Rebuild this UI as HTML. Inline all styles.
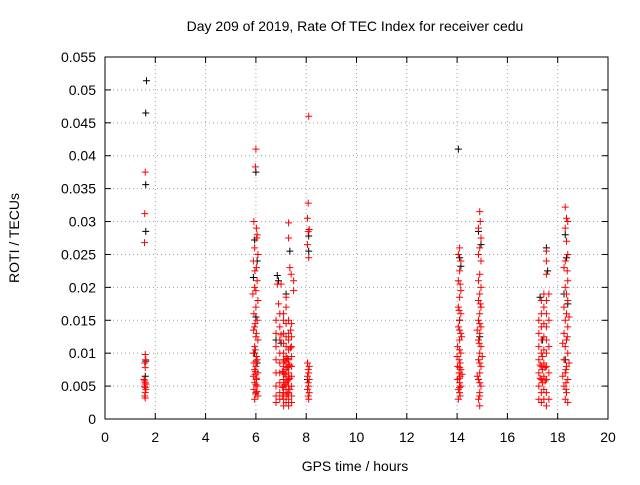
<!DOCTYPE html>
<html><head><meta charset="utf-8"><style>
body{margin:0;background:#fff;}
svg text{font-family:"Liberation Sans",sans-serif;font-size:14px;fill:#000;}
</style></head><body>
<svg id="chart" width="640" height="480" xmlns="http://www.w3.org/2000/svg">
<rect width="640" height="480" fill="#fff"/>
<text x="355" y="31" text-anchor="middle">Day 209 of 2019, Rate Of TEC Index for receiver cedu</text>
<text transform="translate(19,238) rotate(-90)" text-anchor="middle">ROTI / TECUs</text>
<text x="355" y="471" text-anchor="middle">GPS time / hours</text>
<g id="grid"></g>
<g id="ticks"></g>
<g id="marks"></g>
<rect x="105" y="57" width="503" height="362" fill="none" stroke="#000" stroke-width="1"/>
</svg>
<script>
const xTicks=[0,2,4,6,8,10,12,14,16,18,20];
const yTicks=[0,0.005,0.01,0.015,0.02,0.025,0.03,0.035,0.04,0.045,0.05,0.055];
const yTickLabels=["0","0.005","0.01","0.015","0.02","0.025","0.03","0.035","0.04","0.045","0.05","0.055"];
const blackPoints=[[1.65,.0514],[1.62,.0465],[1.62,.0356],[1.62,.0285],[1.62,.0088],[1.6,.0065],
[6.0,.0375],[5.95,.0272],[6.05,.024],[5.9,.0215],[6.0,.0155],[5.95,.010],[6.05,.0085],
[6.85,.0218],[6.9,.021],[7.35,.0255],[7.2,.019],[6.8,.012],[7.0,.0115],
[8.1,.0278],[8.1,.0255],[8.05,.006],
[14.05,.041],[14.1,.0245],[14.15,.0232],[14.1,.015],
[14.85,.0285],[14.95,.0265],[14.9,.0125],
[17.55,.026],[17.6,.0225],[17.3,.0185],[17.4,.012],
[18.3,.028],[18.35,.0245],[18.25,.019],[18.4,.0175],[18.3,.009]];
const redPoints=[[1.6,.0375],[1.58,.0312],[1.57,.0268],[1.6,.0098],[1.62,.009],[1.58,.0085],[1.6,.0078],[1.55,.006],[1.58,.0058],[1.6,.0055],[1.62,.0053],[1.57,.005],[1.6,.0048],[1.63,.0045],[1.6,.004],[1.58,.0035],[1.6,.0032],
[6.0,.041],[5.98,.0383],[5.92,.030],[6.02,.029],[6.05,.028],[5.95,.026],[6.08,.025],[5.9,.024],[6.02,.023],[6.05,.021],[5.95,.020],[5.88,.019],[6.08,.018],[6.0,.017],[5.92,.016],[6.05,.015],[5.95,.014],[5.9,.0135],[6.02,.013],[6.08,.012],[5.95,.011],[5.9,.010],[6.02,.0095],[6.05,.009],[5.92,.0085],[6.0,.008],[5.95,.0075],[6.08,.007],[5.9,.0065],[6.02,.006],[5.95,.0055],[6.05,.005],[5.92,.0045],[6.0,.004],[6.08,.0035],[5.95,.003],[6.02,.0062],[5.98,.0072],[6.04,.0042],
[5.96,.0225],[6.0,.0195],[5.97,.0145],[6.0,.0125],[5.98,.0105],[6.0,.0088],[5.97,.0068],[6.0,.0052],[5.99,.0038],[6.03,.0275],
[7.3,.0298],[7.3,.0275],[7.35,.023],[7.4,.022],[7.5,.021],[7.5,.0195],[7.2,.017],[7.1,.016],[6.85,.0205],[7.0,.0205],[6.9,.0175],[7.2,.0185],
[6.8,.015],[6.8,.013],[6.8,.011],[6.8,.009],[6.8,.007],[6.8,.005],[6.8,.0035],[6.8,.0025],
[6.95,.016],[6.95,.014],[6.95,.012],[6.95,.010],[6.95,.0085],[6.95,.007],[6.95,.0055],[6.95,.004],[6.95,.003],
[7.1,.015],[7.1,.013],[7.1,.0115],[7.1,.010],[7.1,.009],[7.1,.008],[7.1,.007],[7.1,.006],[7.1,.005],[7.1,.004],[7.1,.003],[7.1,.002],
[7.2,.0145],[7.2,.0125],[7.2,.011],[7.2,.0095],[7.2,.0085],[7.2,.0075],[7.2,.0065],[7.2,.0055],[7.2,.0045],[7.2,.0035],[7.2,.0025],
[7.3,.015],[7.3,.013],[7.3,.012],[7.3,.0105],[7.3,.009],[7.3,.008],[7.3,.007],[7.3,.006],[7.3,.005],[7.3,.004],[7.3,.003],[7.3,.002],
[7.42,.0145],[7.42,.0125],[7.42,.011],[7.42,.0095],[7.42,.008],[7.42,.0065],[7.42,.005],[7.42,.0035],[7.42,.0025],
[7.0,.0128],[7.15,.0068],[7.25,.0078],[7.35,.0062],[7.05,.0048],[7.38,.0108],
[7.25,.0092],[7.25,.0058],[7.25,.0038],[7.35,.0082],[7.35,.0045],[7.15,.0088],[7.15,.0052],[7.05,.0072],[7.05,.0035],[7.38,.0135],
[8.1,.046],[8.08,.0328],[8.05,.0305],[8.12,.0288],[8.08,.0285],[8.05,.0265],[8.1,.0245],[8.05,.0085],[8.12,.008],[8.08,.0075],[8.1,.007],[8.05,.0065],[8.12,.006],[8.08,.0055],[8.1,.005],[8.05,.0045],[8.12,.004],[8.08,.0035],[8.1,.003],
[14.1,.026],[14.05,.025],[14.15,.024],[14.1,.0225],[14.05,.021],[14.15,.0195],[14.1,.0185],[14.05,.017],[14.15,.016],[14.1,.015],[14.05,.014],[14.15,.013],[14.1,.012],[14.02,.011],[14.15,.010],[14.08,.009],[14.12,.0085],[14.02,.008],[14.15,.0075],[14.08,.007],[14.12,.0065],[14.02,.006],[14.1,.0055],[14.15,.005],[14.05,.0045],[14.1,.004],[14.12,.0035],[14.05,.003],[14.18,.0125],[14.0,.0095],[14.2,.0068],
[14.1,.0135],[14.1,.0105],[14.1,.0078],[14.1,.0062],[14.1,.0048],[14.08,.0165],[14.12,.0205],
[14.9,.0315],[14.92,.030],[14.85,.029],[14.95,.0275],[14.9,.026],[14.85,.025],[14.95,.024],[14.9,.022],[14.85,.021],[14.95,.020],[14.9,.019],[14.85,.018],[14.95,.017],[14.9,.016],[14.85,.015],[14.95,.014],[14.9,.013],[14.85,.012],[14.95,.011],[14.9,.010],[14.85,.009],[14.95,.008],[14.9,.007],[14.85,.006],[14.95,.005],[14.9,.004],[14.85,.003],[14.9,.002],[14.8,.0135],[15.0,.0095],[14.8,.0065],
[14.9,.0145],[14.9,.0085],[14.9,.0055],[14.9,.0035],[14.88,.0115],[14.92,.0175],
[17.25,.015],[17.25,.013],[17.25,.011],[17.25,.009],[17.25,.007],[17.25,.005],[17.25,.003],
[17.35,.018],[17.35,.016],[17.35,.014],[17.35,.012],[17.35,.010],[17.35,.008],[17.35,.006],[17.35,.004],[17.35,.0025],
[17.45,.019],[17.45,.017],[17.45,.0145],[17.45,.0125],[17.45,.0105],[17.45,.0085],[17.45,.0065],[17.45,.0045],[17.45,.003],
[17.55,.0255],[17.55,.024],[17.55,.022],[17.55,.018],[17.55,.016],[17.55,.014],[17.55,.012],[17.55,.010],[17.55,.008],[17.55,.006],[17.55,.004],[17.55,.002],
[17.65,.019],[17.65,.015],[17.65,.011],[17.65,.007],[17.65,.003],
[17.4,.0095],[17.4,.0075],[17.4,.0055],[17.5,.0078],[17.5,.0058],[17.3,.0082],[17.3,.0062],
[18.3,.0322],[18.35,.0305],[18.4,.030],[18.3,.029],[18.35,.027],[18.4,.025],[18.3,.024],[18.25,.023],[18.4,.021],[18.3,.020],[18.35,.019],[18.4,.018],[18.25,.017],[18.35,.016],[18.3,.015],[18.4,.014],[18.25,.013],[18.35,.012],[18.3,.011],[18.4,.010],[18.25,.009],[18.35,.008],[18.3,.007],[18.4,.006],[18.25,.005],[18.35,.004],[18.3,.003],[18.4,.0025],[18.45,.0155],[18.45,.0085],[18.2,.0115],[18.2,.0065],
[18.33,.0055],[18.33,.0045],[18.33,.0075],[18.38,.0125],[18.38,.0225]];

const X0=105,X1=608,Y0=419,Y1=57,XMAX=20,YMAX=0.055;
const sx=v=>X0+v/XMAX*(X1-X0);
const sy=v=>Y0-v/YMAX*(Y0-Y1);
const NS="http://www.w3.org/2000/svg";
const grid=document.getElementById('grid'),ticks=document.getElementById('ticks'),marks=document.getElementById('marks');
function mk(tag,attrs,parent){const e=document.createElementNS(NS,tag);for(const k in attrs)e.setAttribute(k,attrs[k]);parent.appendChild(e);return e;}
xTicks.forEach(t=>{const x=sx(t);
 if(t>0&&t<XMAX){const g=mk('line',{x1:x,x2:x,y1:Y1,y2:Y0,stroke:'#a0a0a0','stroke-dasharray':'1,3'},grid);
 
 }
 mk('line',{x1:x,x2:x,y1:Y0,y2:Y0-6,stroke:'#000'},ticks);
 mk('line',{x1:x,x2:x,y1:Y1,y2:Y1+6,stroke:'#000'},ticks);
 const l=mk('text',{x:x,y:Y0+23,'text-anchor':'middle'},ticks);l.textContent=t;
 
 
});
yTicks.forEach((t,i)=>{const y=sy(t);
 if(i>0&&i<yTicks.length-1){const g=mk('line',{x1:X0,x2:X1,y1:y,y2:y,stroke:'#a0a0a0','stroke-dasharray':'1,3'},grid);
 
 }
 mk('line',{x1:X0,x2:X0+6,y1:y,y2:y,stroke:'#000'},ticks);
 mk('line',{x1:X1,x2:X1-6,y1:y,y2:y,stroke:'#000'},ticks);
 const l=mk('text',{x:X0-9,y:y+5,'text-anchor':'end'},ticks);l.textContent=yTickLabels[i];
 
 
});
function plus(p,color,name){const x=sx(p[0]),y=sy(p[1]);
 const e=mk('path',{d:`M${x-3.5},${y}H${x+3.5}M${x},${y-3.5}V${y+3.5}`,stroke:color,'stroke-width':1,fill:'none'},marks);
 
 }
blackPoints.forEach(p=>plus(p,'#000','black-point'));
redPoints.forEach(p=>plus(p,'#ff0000','red-point'));
</script>
</body></html>
